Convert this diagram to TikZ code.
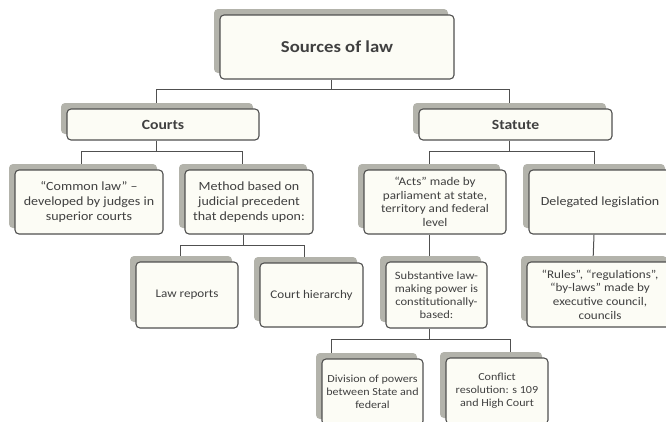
\documentclass[tikz,border=0pt]{standalone}
\usepackage{fontspec}
\setmainfont[FakeStretch=1.12]{Carlito}
\usetikzlibrary{shadows,calc}
\definecolor{boxfill}{HTML}{FCFCF5}
\definecolor{boxline}{HTML}{505050}
\definecolor{shadowc}{HTML}{B3B3AB}
\definecolor{txt}{HTML}{404040}
\pgfdeclarelayer{background}
\pgfsetlayers{background,main}
\begin{document}
\begin{tikzpicture}[x=1pt,y=-1pt,
  box/.style={draw=boxline, line width=1.1pt, fill=boxfill, rounded corners=4pt,
    align=center, text=txt, inner sep=1pt,
    general shadow={fill=shadowc, shadow xshift=-6pt, shadow yshift=6pt}},
  title/.style={box, font=\bfseries\fontsize{14}{17}\selectfont},
  body/.style={box, font=\fontsize{12.5}{15}\selectfont},
  small/.style={box, font=\fontsize{11.7}{13.6}\selectfont},
  tiny/.style={box, font=\fontsize{10.8}{12.8}\selectfont},
  conn/.style={draw=boxline, line width=1pt}]
\clip (0,0) rectangle (666,421);
\node[box, minimum width=234pt, minimum height=64pt,
  font=\bfseries\fontsize{16.7}{20}\selectfont] (root) at (337,47) {Sources of law};
\node[title, minimum width=192pt, minimum height=31pt] (courts) at (163,124.5) {Courts};
\node[title, minimum width=193pt, minimum height=31pt] (statute) at (515.5,124.5) {Statute};
\node[body, minimum width=148pt, minimum height=64pt] (common) at (89,202)
  {“Common law” –\\developed by judges in\\superior courts};
\node[body, minimum width=128pt, minimum height=64pt] (method) at (249,202)
  {Method based on\\judicial precedent\\that depends upon:};
\node[small, minimum width=142pt, minimum height=64pt] (acts) at (435,202)
  {“Acts” made by\\parliament at state,\\territory and federal\\level};
\node[body, minimum width=142pt, minimum height=64pt] (deleg) at (600,202)
  {Delegated legislation};
\node[small, minimum width=102pt, minimum height=66pt] (lawrep) at (187,295) {Law reports};
\node[small, minimum width=103pt, minimum height=64pt] (courth) at (311.5,295) {Court hierarchy};
\node[small, minimum width=101pt, minimum height=66pt,
  font=\fontsize{11.2}{12.8}\selectfont] (subst) at (436.5,295)
  {Substantive law-\\making power is\\constitutionally-\\based:};
\node[small, minimum width=146pt, minimum height=65pt] (rules) at (600,294.5)
  {“Rules”, “regulations”,\\“by-laws” made by\\executive council,\\councils};
\node[tiny, minimum width=101pt, minimum height=66pt] (division) at (372.5,392)
  {Division of powers\\between State and\\federal};
\node[tiny, minimum width=102pt, minimum height=66pt] (conflict) at (497,391)
  {Conflict\\resolution: s 109\\and High Court};
\begin{pgfonlayer}{background}
\fill[white] (0,0) rectangle (666,421);
\draw[conn] ([xshift=-6pt]root.south) -- ++(0,10) coordinate (h0);
\draw[conn] ([xshift=-6.5pt]courts.north) |- (h0) -| ([xshift=-6.5pt]statute.north);
\draw[conn] ([xshift=-7pt]courts.south) -- ++(0,11) coordinate (h1);
\draw[conn] ([xshift=-8pt]common.north) |- (h1) -| ([xshift=-7pt]method.north);
\draw[conn] ([xshift=-6.5pt]statute.south) -- ++(0,11) coordinate (h2);
\draw[conn] ([xshift=-6pt]acts.north) |- (h2) -| ([xshift=-6pt]deleg.north);
\draw[conn] ([xshift=-6pt]method.south) -- ++(0,11) coordinate (h3);
\draw[conn] ([xshift=-7pt]lawrep.north) |- (h3) -| ([xshift=-7.5pt]courth.north);
\draw[conn] ([xshift=-6pt]acts.south) -- ([xshift=-7.5pt]subst.north);
\draw[conn] ([xshift=-6pt]deleg.south) -- ([xshift=-7pt]rules.north);
\draw[conn] ([xshift=-7.5pt]subst.south) -- ++(0,11) coordinate (h4);
\draw[conn] ([xshift=-41.5pt]division.north) |- (h4) -| ([xshift=13pt]conflict.north);
\end{pgfonlayer}
\end{tikzpicture}
\end{document}
